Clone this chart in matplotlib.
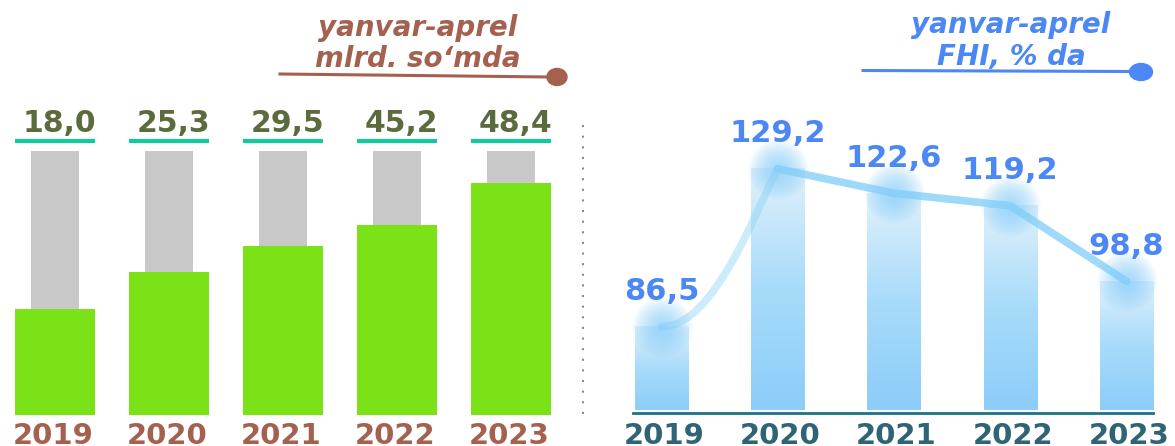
import numpy as np
import matplotlib
matplotlib.use('Agg')
import matplotlib.pyplot as plt
from matplotlib.colors import LinearSegmentedColormap
from matplotlib.path import Path
from matplotlib.patches import PathPatch, Ellipse
from matplotlib.lines import Line2D

years = ['2019', '2020', '2021', '2022', '2023']
revenue = [18.0, 25.3, 29.5, 45.2, 48.4]      # mlrd. so'm
revenue_fill = [40, 54, 64, 72, 88]           # green part of the grey column, %
fhi = [86.5, 129.2, 122.6, 119.2, 98.8]       # FHI, % da

W, H = 1175, 446
fig = plt.figure(figsize=(W / 100, H / 100), dpi=100)


def box(x0, y0, x1, y1):
    # pixel box (origin top-left) -> figure rect
    return [x0 / W, 1 - y1 / H, (x1 - x0) / W, (y1 - y0) / H]


def fmt(v):
    return f'{v:.1f}'.replace('.', ',')


x = np.arange(len(years))

# ---- left panel: revenue ----
step1, c1, k1 = 114, 55, 2.64
ax1 = fig.add_axes(box(c1 - 0.48 * step1, 0, c1 + 4.55 * step1, 415))
ax1.bar(x, 100, width=0.42, color='#c8c8c8', zorder=1)
ax1.bar(x, revenue_fill, width=0.70, color='#7ae216', zorder=2)
ax1.hlines(np.full(len(x), 103.9), x - 0.35, x + 0.35, color='#12c99b', lw=3)
for xi, v, yr in zip(x, revenue, years):
    ax1.text(xi + 0.04, 107.2, fmt(v), ha='center', va='baseline',
             fontsize=21.5, fontweight='bold', color='#5b6b3e')
    ax1.text(xi - 0.02, -29 / k1, yr, ha='center', va='baseline',
             fontsize=21, fontweight='bold', color='#a5614f')
ax1.set_xlim(-0.48, 4.55)
ax1.set_ylim(0, 415 / k1)
ax1.axis('off')

# ---- right panel: FHI ----
step2, c2, k2, base = 116.25, 661.5, 3.7, 64
yb = base - 3 / k2
ax2 = fig.add_axes(box(c2 - 0.5 * step2, 0, W, 413))
grad = np.linspace(0, 1, 256).reshape(-1, 1)
cmap = LinearSegmentedColormap.from_list('fade', ['#8ccdf9', '#a8dbfa', '#e0f1fb'])
for xi, v in zip(x, fhi):
    ax2.imshow(grad, extent=(xi - 0.228, xi + 0.228, base, v), origin='lower',
               cmap=cmap, aspect='auto', interpolation='bilinear', zorder=1)
ax2.plot([-0.245, 4.228], [yb, yb], color='#1b7384', lw=2, clip_on=False, zorder=3)

# trend line: s-curve into 2020, then straight runs
pts = np.column_stack([x, fhi]).astype(float)
p1, p2 = pts[0], pts[1]
s_curve = Path([p1, p1 + (0.45, 0), p2 - (0.2, 12), p2],
               [Path.MOVETO, Path.CURVE4, Path.CURVE4, Path.CURVE4])
ax2.add_patch(PathPatch(s_curve, fill=False, edgecolor='#8ed3f8', lw=5.5,
                        alpha=0.45, capstyle='round', zorder=4))
ax2.plot(pts[1:, 0], pts[1:, 1], color='#8ed3f8', lw=5.5, alpha=0.85,
         solid_capstyle='round', solid_joinstyle='round', zorder=4)

# glow at the points
for r in range(30, 3, -2):
    ax2.scatter(x, fhi, s=(1.44 * r) ** 2, color='#86d0fb', alpha=0.08,
                lw=0, zorder=5)

for xi, v, yr in zip(x, fhi, years):
    ax2.annotate(fmt(v), (xi, v), xytext=(0, 19), textcoords='offset points',
                 ha='center', va='baseline', fontsize=22, fontweight='bold',
                 color='#4b87f5', zorder=6)
    ax2.text(xi + 0.02, yb - 31 / k2, yr, ha='center', va='baseline',
             fontsize=21, fontweight='bold', color='#2f6475')
ax2.set_xlim(-0.5, (W - c2) / step2)
ax2.set_ylim(yb, yb + 413 / k2)
ax2.axis('off')

# ---- captions ----
for cx, lines, col, (lx0, ly0, lx1, ly1), (ex, ey, ew, eh) in [
        (418, [('yanvar-aprel', 36), ('mlrd. so‘mda', 67)], '#a5614f',
         (280, 74, 550, 77), (557, 77, 20, 17)),
        (1011, [('yanvar-aprel', 33), ('FHI, % da', 65)], '#4b87f5',
         (863, 70.5, 1133, 71.5), (1141, 72, 23, 17))]:
    for txt, bl in lines:
        fig.text(cx / W, 1 - bl / H, txt, ha='center', va='baseline',
                 fontsize=20, fontweight='bold', style='italic', color=col)
    fig.add_artist(Line2D([lx0 / W, lx1 / W], [1 - ly0 / H, 1 - ly1 / H],
                          color=col, lw=2.2))
    fig.add_artist(Ellipse((ex / W, 1 - ey / H), ew / W, eh / H, color=col))

# dotted divider
fig.add_artist(Line2D([583 / W] * 2, [1 - 125 / H, 1 - 415 / H],
                      ls=(0, (1, 4.1)), lw=1.5, color='#8a8a8a'))

fig.savefig('out.png', dpi=100)
